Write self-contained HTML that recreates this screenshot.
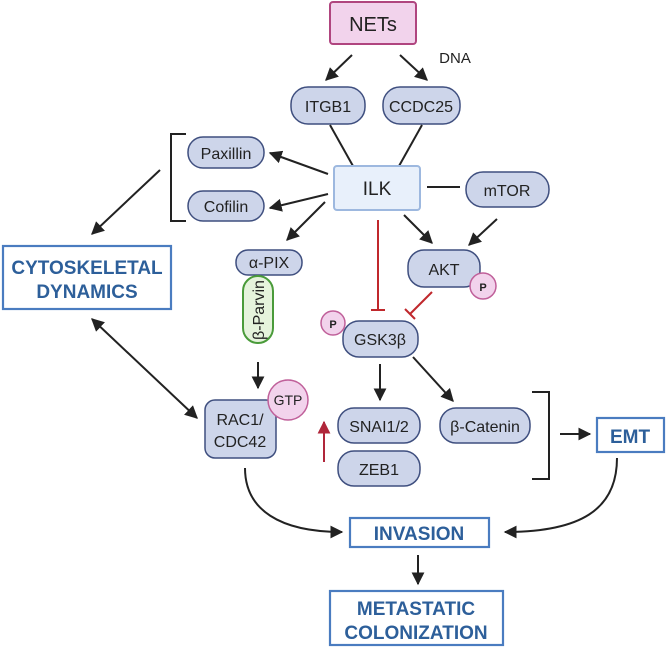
<!DOCTYPE html>
<html><head><style>
body{margin:0;background:#fff}
svg{display:block}
text{font-family:"Liberation Sans",sans-serif}
.p{fill:#cdd5ea;stroke:#3f4f7f;stroke-width:1.5}
.t{font-size:16px;fill:#222;text-anchor:middle}
.b{fill:#fff;stroke:#4a7cc0;stroke-width:2.2}
.bt{font-size:19px;font-weight:bold;fill:#2d5f9a;text-anchor:middle}
.l{stroke:#222;stroke-width:2;fill:none}
.r{stroke:#c0282c;stroke-width:2;fill:none}
</style></head><body>
<svg width="666" height="647" viewBox="0 0 666 647">
<defs>
<marker id="a" viewBox="0 0 10 10" refX="9" refY="5" markerWidth="6.5" markerHeight="6.5" orient="auto-start-reverse"><path d="M0,0L10,5L0,10z" fill="#222"/></marker>
<marker id="ra" viewBox="0 0 10 10" refX="9" refY="5" markerWidth="6.5" markerHeight="6.5" orient="auto"><path d="M0,0L10,5L0,10z" fill="#b0263a"/></marker>
</defs>
<rect x="330" y="2" width="86" height="42" rx="3" fill="#f2d3ec" stroke="#b0457f" stroke-width="2"/>
<text x="373" y="31" class="t" style="font-size:20px">NETs</text>
<text x="455" y="63" class="t" style="font-size:15px">DNA</text>
<line x1="352" y1="55" x2="326" y2="80" class="l" marker-end="url(#a)"/>
<line x1="400" y1="55" x2="427" y2="80" class="l" marker-end="url(#a)"/>
<rect x="291" y="87" width="74" height="37" rx="17" class="p"/><text x="328" y="112" class="t">ITGB1</text>
<rect x="383" y="87" width="77" height="37" rx="17" class="p"/><text x="421" y="112" class="t">CCDC25</text>
<line x1="330" y1="125" x2="353" y2="166" class="l"/>
<line x1="422" y1="125" x2="399" y2="166" class="l"/>
<rect x="334" y="166" width="86" height="44" rx="3" fill="#e8f0fb" stroke="#9db8df" stroke-width="2"/>
<text x="377" y="195" class="t" style="font-size:19px">ILK</text>
<rect x="466" y="172" width="83" height="35" rx="17" class="p"/><text x="507" y="196" class="t">mTOR</text>
<line x1="427" y1="187" x2="460" y2="187" class="l"/>
<rect x="188" y="137" width="76" height="31" rx="15" class="p"/><text x="226" y="159" class="t">Paxillin</text>
<rect x="188" y="191" width="76" height="30" rx="15" class="p"/><text x="226" y="212" class="t">Cofilin</text>
<line x1="328" y1="174" x2="270" y2="153" class="l" marker-end="url(#a)"/>
<line x1="328" y1="194" x2="270" y2="208" class="l" marker-end="url(#a)"/>
<line x1="325" y1="202" x2="287" y2="240" class="l" marker-end="url(#a)"/>
<path d="M186,134H171V221H186" class="l"/>
<line x1="160" y1="170" x2="92" y2="234" class="l" marker-end="url(#a)"/>
<rect x="3" y="246" width="168" height="63" class="b"/>
<text x="87" y="274" class="bt">CYTOSKELETAL</text>
<text x="87" y="298" class="bt">DYNAMICS</text>
<line x1="92" y1="319" x2="197" y2="418" class="l" marker-start="url(#a)" marker-end="url(#a)"/>
<line x1="404" y1="215" x2="432" y2="243" class="l" marker-end="url(#a)"/>
<line x1="497" y1="219" x2="469" y2="245" class="l" marker-end="url(#a)"/>
<rect x="408" y="250" width="72" height="37" rx="16" class="p"/><text x="444" y="275" class="t">AKT</text>
<circle cx="483" cy="286" r="13" fill="#f2d3ec" stroke="#c0609a" stroke-width="1.5"/><text x="483" y="291" class="t" style="font-size:11px;font-weight:bold">P</text>
<rect x="236" y="250" width="66" height="25" rx="12" class="p"/><text x="269" y="268" class="t">α-PIX</text>
<rect x="243" y="276" width="30" height="67" rx="15" fill="#e5f3dc" stroke="#4a9b3a" stroke-width="2"/>
<text transform="translate(264,310) rotate(-90)" class="t" style="font-size:16px">β-Parvin</text>
<line x1="258" y1="362" x2="258" y2="388" class="l" marker-end="url(#a)"/>
<rect x="205" y="400" width="71" height="58" rx="10" class="p"/>
<text x="240" y="425" class="t">RAC1/</text><text x="240" y="447" class="t">CDC42</text>
<circle cx="288" cy="400" r="20" fill="#f2d3ec" stroke="#c0609a" stroke-width="1.5"/><text x="288" y="405" class="t" style="font-size:14px">GTP</text>
<line x1="378" y1="220" x2="378" y2="310" class="r"/><line x1="371" y1="310" x2="385" y2="310" class="r"/>
<line x1="432" y1="292" x2="410" y2="314" class="r"/><line x1="405" y1="309" x2="415" y2="319" class="r"/>
<rect x="343" y="321" width="75" height="36" rx="16" class="p"/><text x="380" y="345" class="t">GSK3β</text>
<circle cx="333" cy="323" r="12" fill="#f2d3ec" stroke="#c0609a" stroke-width="1.5"/><text x="333" y="328" class="t" style="font-size:11px;font-weight:bold">P</text>
<line x1="380" y1="364" x2="380" y2="400" class="l" marker-end="url(#a)"/>
<line x1="413" y1="357" x2="453" y2="401" class="l" marker-end="url(#a)"/>
<rect x="338" y="408" width="82" height="35" rx="16" class="p"/><text x="379" y="432" class="t">SNAI1/2</text>
<rect x="338" y="451" width="82" height="35" rx="16" class="p"/><text x="379" y="475" class="t">ZEB1</text>
<rect x="440" y="408" width="90" height="35" rx="16" class="p"/><text x="485" y="432" class="t">β-Catenin</text>
<line x1="324" y1="462" x2="324" y2="422" stroke="#b0263a" stroke-width="2" marker-end="url(#ra)"/>
<path d="M532,392H549V479H532" class="l"/>
<line x1="560" y1="434" x2="590" y2="434" class="l" marker-end="url(#a)"/>
<rect x="597" y="418" width="67" height="34" class="b"/><text x="630" y="443" class="bt">EMT</text>
<path d="M245,468C245,510 280,532 342,532" class="l" marker-end="url(#a)"/>
<path d="M617,458C617,510 580,532 505,532" class="l" marker-end="url(#a)"/>
<rect x="350" y="518" width="139" height="29" class="b"/><text x="419" y="540" class="bt">INVASION</text>
<line x1="418" y1="555" x2="418" y2="584" class="l" marker-end="url(#a)"/>
<rect x="330" y="591" width="173" height="54" class="b"/>
<text x="416" y="615" class="bt">METASTATIC</text><text x="416" y="639" class="bt">COLONIZATION</text>
</svg>
</body></html>
